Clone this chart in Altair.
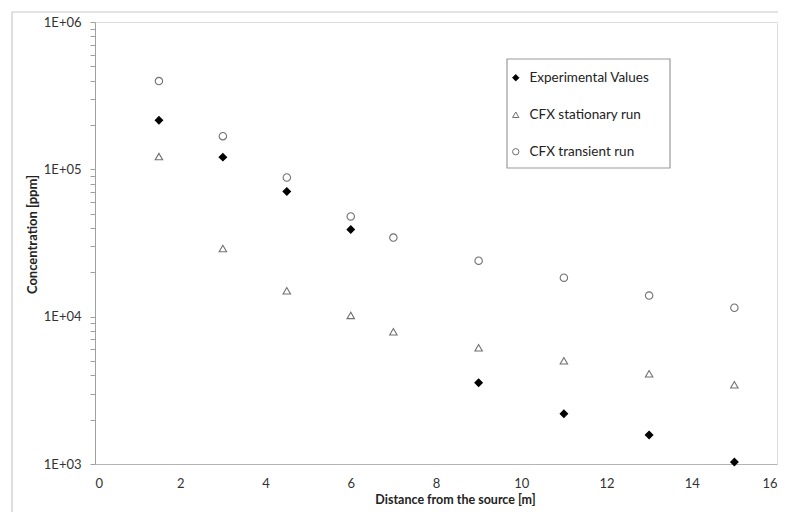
import altair as alt
import pandas as pd

series_names = ["Experimental Values", "CFX stationary run", "CFX transient run"]

exp_x = [1.5, 3, 4.5, 6, 9, 11, 13, 15]
exp_y = [215000, 121000, 70800, 39000, 3560, 2190, 1576, 1030]

stat_x = [1.5, 3, 4.5, 6, 7, 9, 11, 13, 15]
stat_y = [122000, 29000, 15000, 10200, 7900, 6150, 5020, 4100, 3450]

trans_x = [1.5, 3, 4.5, 6, 7, 9, 11, 13, 15]
trans_y = [397000, 168000, 88000, 47900, 34400, 24000, 18400, 13900, 11500]

x_ticks = [0, 2, 4, 6, 8, 10, 12, 14, 16]
y_major = [1000, 10000, 100000, 1000000]
y_ticks = [m * d for d in [1000, 10000, 100000] for m in range(1, 10)] + [1000000]

rows = []
for name, xs, ys in [(series_names[0], exp_x, exp_y),
                     (series_names[1], stat_x, stat_y),
                     (series_names[2], trans_x, trans_y)]:
    for xv, yv in zip(xs, ys):
        rows.append({"series": name, "x": xv, "y": yv})
df = pd.DataFrame(rows)

FONT = "Lato"
GRAY = "#707070"

points = alt.Chart(df).mark_point(size=55, strokeWidth=1.1, opacity=1).encode(
    x=alt.X("x:Q", scale=alt.Scale(domain=[0, 16], nice=False, zero=False),
            axis=alt.Axis(values=x_ticks, title="Distance from the source [m]",
                          grid=False, ticks=False, labelPadding=13,
                          domainColor="#b4b4b4", labelFontSize=13,
                          labelColor="#333333", titleFontSize=12.5,
                          titleFontWeight="bold", titlePadding=3,
                          titleColor="#222222", titleX=360)),
    y=alt.Y("y:Q", scale=alt.Scale(type="log", domain=[1000, 1000000], nice=False),
            axis=alt.Axis(values=y_ticks, title="Concentration [ppm]",
                          labelExpr="indexof([1000,10000,100000,1000000], datum.value) >= 0 ? '1E+0' + round(log(datum.value)/LN10) : ''",
                          labelOverlap=False, grid=False, tickSize=5,
                          tickColor="#a0a0a0", domainColor="#a0a0a0",
                          labelFontSize=13, labelColor="#333333", labelPadding=9,
                          titleFontSize=13, titleFontWeight="bold",
                          titleColor="#222222", titlePadding=4, titleY=212)),
    shape=alt.Shape("series:N", scale=alt.Scale(domain=series_names,
                    range=["diamond", "triangle-up", "circle"]),
                    legend=alt.Legend(title=None, orient="none", legendX=414, legendY=49,
                                      labelFontSize=13.5, labelColor="#222222",
                                      rowPadding=22, symbolSize=40,
                                      labelOffset=7, padding=0, symbolStrokeWidth=1)),
    fill=alt.Fill("series:N", scale=alt.Scale(domain=series_names,
                  range=["#000000", "transparent", "transparent"]), legend=None),
    stroke=alt.Stroke("series:N", scale=alt.Scale(domain=series_names,
                      range=["#000000", GRAY, GRAY]), legend=None),
)

legend_box = alt.Chart(pd.DataFrame({"a": [0]})).mark_rect(
    fill="white", stroke="#9a9a9a", strokeWidth=1.2
).encode(x=alt.value(412), x2=alt.value(575), y=alt.value(37), y2=alt.value(146))

frame_top = alt.Chart(pd.DataFrame({"a": [0]})).mark_rule(
    color="#c8c8c8", strokeWidth=1.2).encode(
    x=alt.value(-83), x2=alt.value(700), y=alt.value(-10))
frame_left = alt.Chart(pd.DataFrame({"a": [0]})).mark_rule(
    color="#c8c8c8", strokeWidth=1.2).encode(
    x=alt.value(-83), y=alt.value(-10), y2=alt.value(500))

chart = alt.layer(frame_top, frame_left, legend_box, points).properties(
    width=682, height=442,
    autosize=alt.AutoSizeParams(type="none"),
    padding={"left": 87, "top": 14, "right": 1, "bottom": 48},
    background="white",
).configure_view(stroke="#9a9a9a", strokeWidth=1.2).configure(font=FONT)

chart.save("out.html", embed_options={"renderer": "svg", "actions": False})
